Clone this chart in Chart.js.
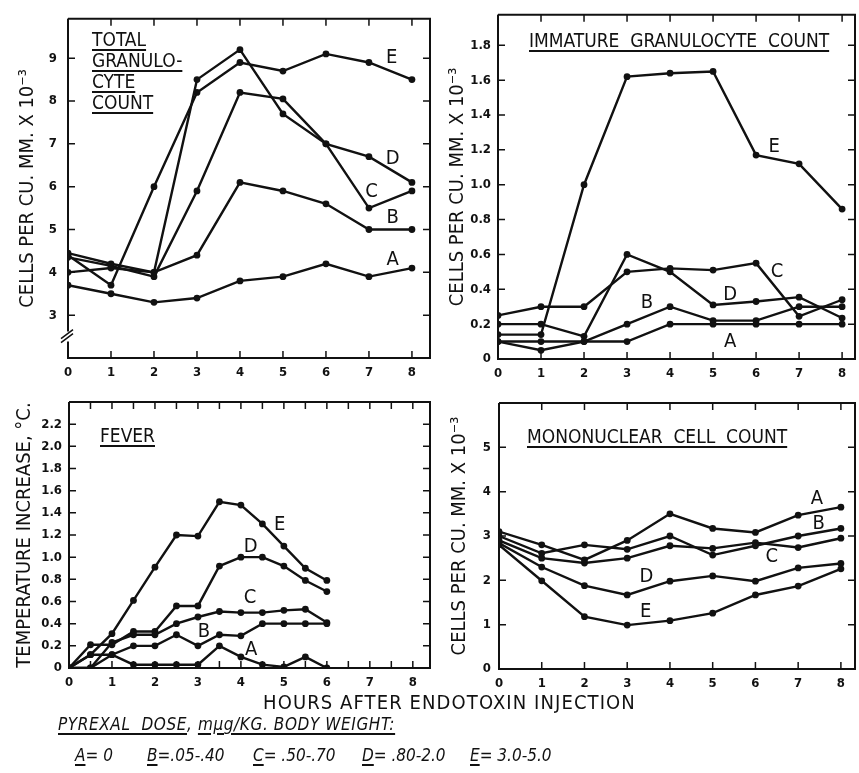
<!DOCTYPE html>
<html>
<head>
<meta charset="utf-8">
<script src="https://cdn.jsdelivr.net/npm/chart.js@4.4.1/dist/chart.umd.min.js"></script>
<style>
  body { margin: 0; background: #fff; }
  #page { position: relative; width: 859px; height: 773px; overflow: hidden; background: #fff; color: #111;
          font-family: "DejaVu Sans Condensed", "Liberation Sans Narrow", "DejaVu Sans", sans-serif; }
  canvas { position: absolute; }
  .txt { position: absolute; white-space: nowrap; font-size: 19px; line-height: 21px; }
  .u { text-decoration: underline; text-decoration-thickness: 1.5px; text-underline-offset: 3px; }
  .it { font-style: italic; }
</style>
</head>
<body>
<div id="page">
  <canvas id="total" width="440" height="385" style="left:0;top:0"></canvas>
  <canvas id="immature" width="429" height="385" style="left:430px;top:0"></canvas>
  <canvas id="fever" width="440" height="310" style="left:0;top:385px"></canvas>
  <canvas id="mono" width="429" height="310" style="left:430px;top:385px"></canvas>

  <div class="txt" style="left:92px;top:29px"><span class="u">TOTAL</span><br><span class="u">GRANULO-</span><br><span class="u">CYTE</span><br><span class="u">COUNT</span></div>
  <div class="txt" style="left:529px;top:30px"><span class="u">IMMATURE&nbsp; GRANULOCYTE&nbsp; COUNT</span></div>
  <div class="txt" style="left:100px;top:425px"><span class="u">FEVER</span></div>
  <div class="txt" style="left:527px;top:426px"><span class="u">MONONUCLEAR&nbsp; CELL&nbsp; COUNT</span></div>
  <div class="txt" style="left:263px;top:692px;font-size:20px;letter-spacing:1.1px">HOURS AFTER ENDOTOXIN INJECTION</div>
  <div class="txt it" style="left:58px;top:714px;font-size:17px;letter-spacing:0.6px"><span class="u">PYREXAL&nbsp; DOSE</span>, <span class="u">mμg/KG. BODY WEIGHT:</span></div>
  <div class="txt it" style="left:75px;top:745px;font-size:17px"><span class="u">A</span>= 0</div>
  <div class="txt it" style="left:147px;top:745px;font-size:17px"><span class="u">B</span>=.05-.40</div>
  <div class="txt it" style="left:253px;top:745px;font-size:17px"><span class="u">C</span>= .50-.70</div>
  <div class="txt it" style="left:362px;top:745px;font-size:17px"><span class="u">D</span>= .80-2.0</div>
  <div class="txt it" style="left:470px;top:745px;font-size:17px"><span class="u">E</span>= 3.0-5.0</div>
</div>

<script>
const ink = '#111';
const fontFamily = '"DejaVu Sans Condensed", "Liberation Sans Narrow", "DejaVu Sans", sans-serif';

const seriesNames = ['A', 'B', 'C', 'D', 'E'];
const hours = [0, 1, 2, 3, 4, 5, 6, 7, 8];
const hourLabels = ['0', '1', '2', '3', '4', '5', '6', '7', '8'];
const halfHours = [0, 0.5, 1, 1.5, 2, 2.5, 3, 3.5, 4, 4.5, 5, 5.5, 6, 6.5, 7, 7.5, 8];
const feverHours = [0, 0.5, 1, 1.5, 2, 2.5, 3, 3.5, 4, 4.5, 5, 5.5, 6];

// total granulocyte count
const totalA = [3.7, 3.5, 3.3, 3.4, 3.8, 3.9, 4.2, 3.9, 4.1];
const totalB = [4.0, 4.1, 4.0, 4.4, 6.1, 5.9, 5.6, 5.0, 5.0];
const totalC = [4.45, 4.2, 4.0, 8.5, 9.2, 7.7, 7.0, 5.5, 5.9];
const totalD = [4.35, 4.15, 3.9, 5.9, 8.2, 8.05, 7.0, 6.7, 6.1];
const totalE = [4.4, 3.7, 6.0, 8.2, 8.9, 8.7, 9.1, 8.9, 8.5];
const totalTicks = [3, 4, 5, 6, 7, 8, 9];
const totalLabels = ['3', '4', '5', '6', '7', '8', '9'];

// immature granulocyte count
const immA = [0.1, 0.1, 0.1, 0.1, 0.2, 0.2, 0.2, 0.2, 0.2];
const immB = [0.1, 0.05, 0.1, 0.2, 0.3, 0.22, 0.22, 0.3, 0.3];
const immC = [0.25, 0.3, 0.3, 0.5, 0.52, 0.51, 0.55, 0.245, 0.34];
const immD = [0.2, 0.2, 0.13, 0.6, 0.5, 0.31, 0.33, 0.355, 0.235];
const immE = [0.14, 0.14, 1.0, 1.62, 1.64, 1.65, 1.17, 1.12, 0.86];
const immTicks = [0, 0.2, 0.4, 0.6, 0.8, 1.0, 1.2, 1.4, 1.6, 1.8];
const immLabels = ['0', '0.2', '0.4', '0.6', '0.8', '1.0', '1.2', '1.4', '1.6', '1.8'];

// fever
const feverA = [0, 0.12, 0.12, 0.03, 0.03, 0.03, 0.03, 0.2, 0.1, 0.03, 0.01, 0.1, 0];
const feverB = [0, 0, 0.12, 0.2, 0.2, 0.3, 0.2, 0.3, 0.29, 0.4, 0.4, 0.4, 0.4];
const feverC = [0, 0, 0.23, 0.3, 0.3, 0.4, 0.46, 0.51, 0.5, 0.5, 0.52, 0.53, 0.41];
const feverD = [0, 0.21, 0.21, 0.33, 0.33, 0.56, 0.56, 0.92, 1.0, 1.0, 0.92, 0.79, 0.69];
const feverE = [0, 0.12, 0.31, 0.61, 0.91, 1.2, 1.19, 1.5, 1.47, 1.3, 1.1, 0.9, 0.79];
const feverTicks = [0, 0.2, 0.4, 0.6, 0.8, 1.0, 1.2, 1.4, 1.6, 1.8, 2.0, 2.2];
const feverLabels = ['0', '0.2', '0.4', '0.6', '0.8', '1.0', '1.2', '1.4', '1.6', '1.8', '2.0', '2.2'];

// mononuclear cell count
const monoA = [3.1, 2.8, 2.46, 2.9, 3.5, 3.17, 3.08, 3.47, 3.65];
const monoB = [3.0, 2.61, 2.8, 2.7, 3.0, 2.57, 2.78, 3.0, 3.17];
const monoC = [2.9, 2.5, 2.39, 2.5, 2.78, 2.72, 2.85, 2.74, 2.95];
const monoD = [2.84, 2.3, 1.88, 1.67, 1.98, 2.1, 1.98, 2.28, 2.38];
const monoE = [2.8, 1.99, 1.18, 0.99, 1.09, 1.26, 1.67, 1.87, 2.26];
const monoTicks = [0, 1, 2, 3, 4, 5];
const monoLabels = ['0', '1', '2', '3', '4', '5'];

// where the A..E letters sit, in data units
const totalTags = [[7.55, 4.3], [7.55, 5.27], [7.06, 5.87], [7.55, 6.66], [7.53, 9.0]];
const immTags = [[5.4, 0.1], [3.46, 0.32], [6.49, 0.5], [5.4, 0.37], [6.42, 1.22]];
const feverTags = [[4.24, 0.16], [3.14, 0.33], [4.21, 0.63], [4.23, 1.09], [4.9, 1.29]];
const monoTags = [[7.44, 3.83], [7.48, 3.27], [6.38, 2.53], [3.45, 2.07], [3.43, 1.28]];

const tickFont = { family: fontFamily, size: 13, weight: 'bold' };

// box round the plot with inward tick marks, axis break and curve letters
const framePlugin = {
  id: 'frame',
  afterDatasetsDraw(chart, args, opts) {
    const { ctx, chartArea: a, scales: { x, y } } = chart;
    ctx.save();
    ctx.strokeStyle = ink;
    ctx.fillStyle = ink;
    ctx.lineWidth = 2;
    ctx.beginPath();
    ctx.moveTo(a.left, a.top);
    ctx.lineTo(a.right, a.top);
    ctx.lineTo(a.right, a.bottom);
    ctx.lineTo(a.left, a.bottom);
    if (opts.breakAt != null) {
      const yb = y.getPixelForValue(opts.breakAt);
      ctx.lineTo(a.left, yb + 5);
      ctx.moveTo(a.left, yb - 5);
    }
    ctx.lineTo(a.left, a.top);
    ctx.stroke();

    if (opts.breakAt != null) {
      const yb = y.getPixelForValue(opts.breakAt);
      ctx.lineWidth = 1.5;
      ctx.beginPath();
      ctx.moveTo(a.left - 7, yb + 6); ctx.lineTo(a.left + 5, yb - 3);
      ctx.moveTo(a.left - 7, yb + 2); ctx.lineTo(a.left + 5, yb - 7);
      ctx.stroke();
    }

    const len = 7;
    ctx.lineWidth = 1.5;
    ctx.beginPath();
    opts.xMarks.forEach(v => {
      const px = x.getPixelForValue(v);
      ctx.moveTo(px, a.top); ctx.lineTo(px, a.top + len);
      ctx.moveTo(px, a.bottom); ctx.lineTo(px, a.bottom - len);
    });
    opts.yMarks.forEach(v => {
      const py = y.getPixelForValue(v);
      ctx.moveTo(a.left, py); ctx.lineTo(a.left + len, py);
      ctx.moveTo(a.right, py); ctx.lineTo(a.right - len, py);
    });
    ctx.stroke();

    ctx.font = '20px ' + fontFamily;
    ctx.textAlign = 'center';
    ctx.textBaseline = 'middle';
    opts.tags.forEach((t, i) => {
      ctx.fillText(seriesNames[i], x.getPixelForValue(t[0]), y.getPixelForValue(t[1]));
    });
    ctx.restore();
  }
};
Chart.register(framePlugin);

function makePanel(id, p) {
  const datasets = p.series.map((vals, i) => ({
    label: seriesNames[i],
    data: vals.map((v, j) => ({ x: p.xs[j], y: v })),
    borderColor: ink,
    backgroundColor: ink,
    borderWidth: 2.4,
    pointRadius: 3.4,
    pointBorderWidth: 0,
    tension: 0
  }));

  return new Chart(document.getElementById(id), {
    type: 'line',
    data: { datasets },
    options: {
      responsive: false,
      animation: false,
      events: [],
      layout: { padding: p.padding },
      plugins: {
        legend: { display: false },
        tooltip: { enabled: false },
        frame: { xMarks: p.xMarks, yMarks: p.yMarks, tags: p.tags, breakAt: p.breakAt }
      },
      scales: {
        x: {
          type: 'linear',
          min: 0,
          max: p.xMax,
          grid: { display: false, drawTicks: false },
          border: { display: false },
          afterBuildTicks: s => { s.ticks = hours.map(v => ({ value: v })); },
          afterFit: s => { s.height = p.xAxisHeight; },
          ticks: { color: ink, padding: 7, maxRotation: 0, autoSkip: false, font: tickFont,
                   callback: (v, i) => hourLabels[i] }
        },
        y: {
          min: p.yMin,
          max: p.yMax,
          grid: { display: false, drawTicks: false },
          border: { display: false },
          afterBuildTicks: s => { s.ticks = p.yTicks.map(v => ({ value: v })); },
          afterFit: s => { s.width = p.yAxisWidth; },
          ticks: { color: ink, padding: p.yPad, autoSkip: false, font: tickFont,
                   callback: (v, i) => p.yLabels[i] },
          title: {
            display: true,
            text: p.yTitle,
            color: ink,
            font: { family: fontFamily, size: 20 },
            padding: { top: p.titlePad, bottom: 0 }
          }
        }
      }
    }
  });
}

makePanel('total', {
  xs: hours, series: [totalA, totalB, totalC, totalD, totalE],
  xMax: 8.42, yMin: 2, yMax: 9.92,
  yTicks: totalTicks, yLabels: totalLabels, yMarks: totalTicks, xMarks: hours,
  tags: totalTags, breakAt: 2.5,
  padding: { top: 7, right: 10, left: 0, bottom: 0 },
  yAxisWidth: 68, xAxisHeight: 27, yPad: 11, titlePad: 16,
  yTitle: 'CELLS PER CU. MM. X 10⁻³'
});

makePanel('immature', {
  xs: hours, series: [immA, immB, immC, immD, immE],
  xMax: 8.3, yMin: 0, yMax: 1.975,
  yTicks: immTicks, yLabels: immLabels, yMarks: immTicks.slice(1), xMarks: hours,
  tags: immTags,
  padding: { top: 7, right: 1, left: 0, bottom: 0 },
  yAxisWidth: 68, xAxisHeight: 26, yPad: 7, titlePad: 16,
  yTitle: 'CELLS PER CU. MM. X 10⁻³'
});

makePanel('fever', {
  xs: feverHours, series: [feverA, feverB, feverC, feverD, feverE],
  xMax: 8.4, yMin: 0, yMax: 2.4,
  yTicks: feverTicks, yLabels: feverLabels, yMarks: feverTicks.slice(1), xMarks: halfHours,
  tags: feverTags,
  padding: { top: 17, right: 10, left: 0, bottom: 0 },
  yAxisWidth: 69, xAxisHeight: 27, yPad: 7, titlePad: 13,
  yTitle: 'TEMPERATURE INCREASE, °C.'
});

makePanel('mono', {
  xs: hours, series: [monoA, monoB, monoC, monoD, monoE],
  xMax: 8.33, yMin: 0, yMax: 6,
  yTicks: monoTicks, yLabels: monoLabels, yMarks: monoTicks.slice(1), xMarks: hours,
  tags: monoTags,
  padding: { top: 18, right: 1, left: 0, bottom: 0 },
  yAxisWidth: 69, xAxisHeight: 26, yPad: 8, titlePad: 18,
  yTitle: 'CELLS PER CU. MM. X 10⁻³'
});
</script>
</body>
</html>
